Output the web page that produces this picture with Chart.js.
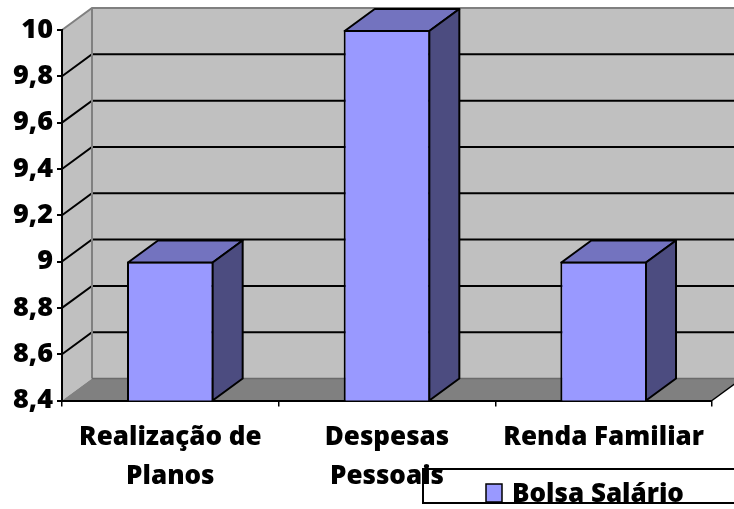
<!DOCTYPE html>
<html>
<head>
<meta charset="utf-8">
<script src="https://cdn.jsdelivr.net/npm/chart.js@4"></script>
<style>
  body { margin: 0; background: #fff; }
  #chart { display: block; }
</style>
</head>
<body>
<canvas id="chart" width="734" height="509"></canvas>
<script>
const categories   = [['Realização de', 'Planos'], ['Despesas', 'Pessoais'], 'Renda Familiar'];
const seriesName   = 'Bolsa Salário';
const bolsaSalario = [9, 10, 9];
const yMin = 8.4, yMax = 10, yStep = 0.2;

// depth of the 3d box: offset of the back plane from the front plane
const DX = 30, DY = -22;
const FONT = '"Open Sans", "Liberation Sans", sans-serif';
const WEIGHT = 800;

/*==========| walls, floor and gridlines |========== */
const wallsPlugin = {
    id: 'walls',
    beforeDraw(chart) {
        const ctx = chart.ctx;
        const a = chart.chartArea;
        const ys = chart.scales.y;
        ctx.save();

        // back wall + side wall
        ctx.fillStyle = '#c0c0c0';
        ctx.fillRect(a.left + DX, a.top + DY, a.right - a.left, a.bottom - a.top);
        ctx.beginPath();
        ctx.moveTo(a.left, a.top);
        ctx.lineTo(a.left + DX, a.top + DY);
        ctx.lineTo(a.left + DX, a.bottom + DY);
        ctx.lineTo(a.left, a.bottom);
        ctx.closePath();
        ctx.fill();

        // floor
        ctx.fillStyle = '#808080';
        ctx.beginPath();
        ctx.moveTo(a.left, a.bottom);
        ctx.lineTo(a.left + DX, a.bottom + DY);
        ctx.lineTo(a.right + DX, a.bottom + DY);
        ctx.lineTo(a.right, a.bottom);
        ctx.closePath();
        ctx.fill();

        // gridlines: diagonal on the side wall, flat on the back wall
        ctx.strokeStyle = '#000';
        ctx.lineWidth = 2;
        ys.ticks.forEach(t => {
            if (t.value <= yMin + 1e-6 || t.value >= yMax - 1e-6) return;
            const y = ys.getPixelForValue(t.value);
            ctx.beginPath();
            ctx.moveTo(a.left, y);
            ctx.lineTo(a.left + DX, y + DY);
            ctx.lineTo(a.right + DX, y + DY);
            ctx.stroke();
        });

        // wall edges
        ctx.strokeStyle = '#808080';
        ctx.beginPath();
        ctx.moveTo(a.left, a.top);
        ctx.lineTo(a.left + DX, a.top + DY);
        ctx.lineTo(a.right + DX, a.top + DY);
        ctx.moveTo(a.left + DX, a.top + DY);
        ctx.lineTo(a.left + DX, a.bottom + DY);
        ctx.stroke();

        ctx.strokeStyle = '#6a6a6a';
        ctx.lineWidth = 1.5;
        ctx.beginPath();
        ctx.moveTo(a.left + DX, a.bottom + DY);
        ctx.lineTo(a.right + DX, a.bottom + DY);
        ctx.stroke();

        ctx.strokeStyle = '#000';
        ctx.beginPath();
        ctx.moveTo(a.right, a.bottom);
        ctx.lineTo(a.right + DX, a.bottom + DY);
        ctx.stroke();
        ctx.restore();
    }
};

/*==========| top and side faces of the columns |========== */
const boxPlugin = {
    id: 'box3d',
    afterDatasetsDraw(chart) {
        const ctx = chart.ctx;
        const floor = chart.scales.y.getPixelForValue(yMin);
        ctx.save();
        ctx.strokeStyle = '#000';
        ctx.lineWidth = 2;
        ctx.lineJoin = 'round';
        chart.getDatasetMeta(0).data.forEach(bar => {
            const p = bar.getProps(['x', 'y', 'base', 'width'], true);
            const l = p.x - p.width / 2 + 1, r = p.x + p.width / 2 - 1;
            const t = p.y + 1, b = Math.min(p.base, floor);

            ctx.fillStyle = '#7373bf';
            ctx.beginPath();
            ctx.moveTo(l, t);
            ctx.lineTo(l + DX, t + DY);
            ctx.lineTo(r + DX, t + DY);
            ctx.lineTo(r, t);
            ctx.closePath();
            ctx.fill();
            ctx.stroke();

            ctx.fillStyle = '#4c4c80';
            ctx.beginPath();
            ctx.moveTo(r, t);
            ctx.lineTo(r + DX, t + DY);
            ctx.lineTo(r + DX, b + DY);
            ctx.lineTo(r, b);
            ctx.closePath();
            ctx.fill();
            ctx.stroke();
        });
        ctx.restore();
    }
};

/*==========| legend box, bottom right |========== */
const legendPlugin = {
    id: 'legendBox',
    afterDraw(chart) {
        const ctx = chart.ctx;
        const ds = chart.data.datasets[0];
        const bx = 423, by = 469, bw = 330, bh = 34;
        ctx.save();
        ctx.strokeStyle = '#000';
        ctx.lineWidth = 2;
        ctx.strokeRect(bx, by, bw, bh);

        ctx.beginPath();
        ctx.rect(bx, by, bw, bh);
        ctx.clip();
        ctx.fillStyle = ds.backgroundColor;
        ctx.fillRect(486, 484, 16, 18);
        ctx.lineWidth = 1.5;
        ctx.strokeRect(486, 484, 16, 18);

        ctx.fillStyle = '#000';
        ctx.font = WEIGHT + ' 26px ' + FONT;
        ctx.textBaseline = 'alphabetic';
        ctx.fillText(ds.label, 512, 502);
        ctx.restore();
    }
};

const fmt = v => {
    const r = Math.round(v * 10) / 10;
    return Number.isInteger(r) ? String(r) : r.toFixed(1).replace('.', ',');
};

const ctx = document.getElementById('chart');
const chart = new Chart(ctx, {
    type: 'bar',
    data: {
        labels: categories,
        datasets: [{
            label: seriesName,
            data: bolsaSalario,
            backgroundColor: '#9999ff',
            borderColor: '#000',
            borderWidth: 2,
            borderSkipped: false,
            barPercentage: 0.4,
            categoryPercentage: 1
        }]
    },
    options: {
        responsive: false,
        animation: false,
        devicePixelRatio: 1,
        layout: { padding: { top: 30, right: 22, left: 0, bottom: 0 } },
        plugins: {
            legend: { display: false },
            tooltip: { enabled: false }
        },
        scales: {
            x: {
                grid: { drawOnChartArea: false, offset: true, color: '#000', lineWidth: 1.5, tickLength: 6 },
                border: { color: '#000', width: 2 },
                ticks: {
                    color: '#000',
                    maxRotation: 0,
                    autoSkip: false,
                    padding: 12,
                    font: { family: FONT, size: 26, weight: WEIGHT, lineHeight: 1.5 }
                },
                afterFit: s => { s.height = 108.5; }
            },
            y: {
                min: yMin,
                max: yMax,
                grid: { drawOnChartArea: false, color: '#000', lineWidth: 2, tickLength: 5 },
                border: { color: '#000', width: 2 },
                ticks: {
                    stepSize: yStep,
                    color: '#000',
                    padding: 4,
                    font: { family: FONT, size: 27, weight: WEIGHT },
                    callback: v => fmt(v)
                },
                afterFit: s => { s.width = 62; }
            }
        }
    },
    plugins: [wallsPlugin, boxPlugin, legendPlugin]
});
</script>
</body>
</html>
